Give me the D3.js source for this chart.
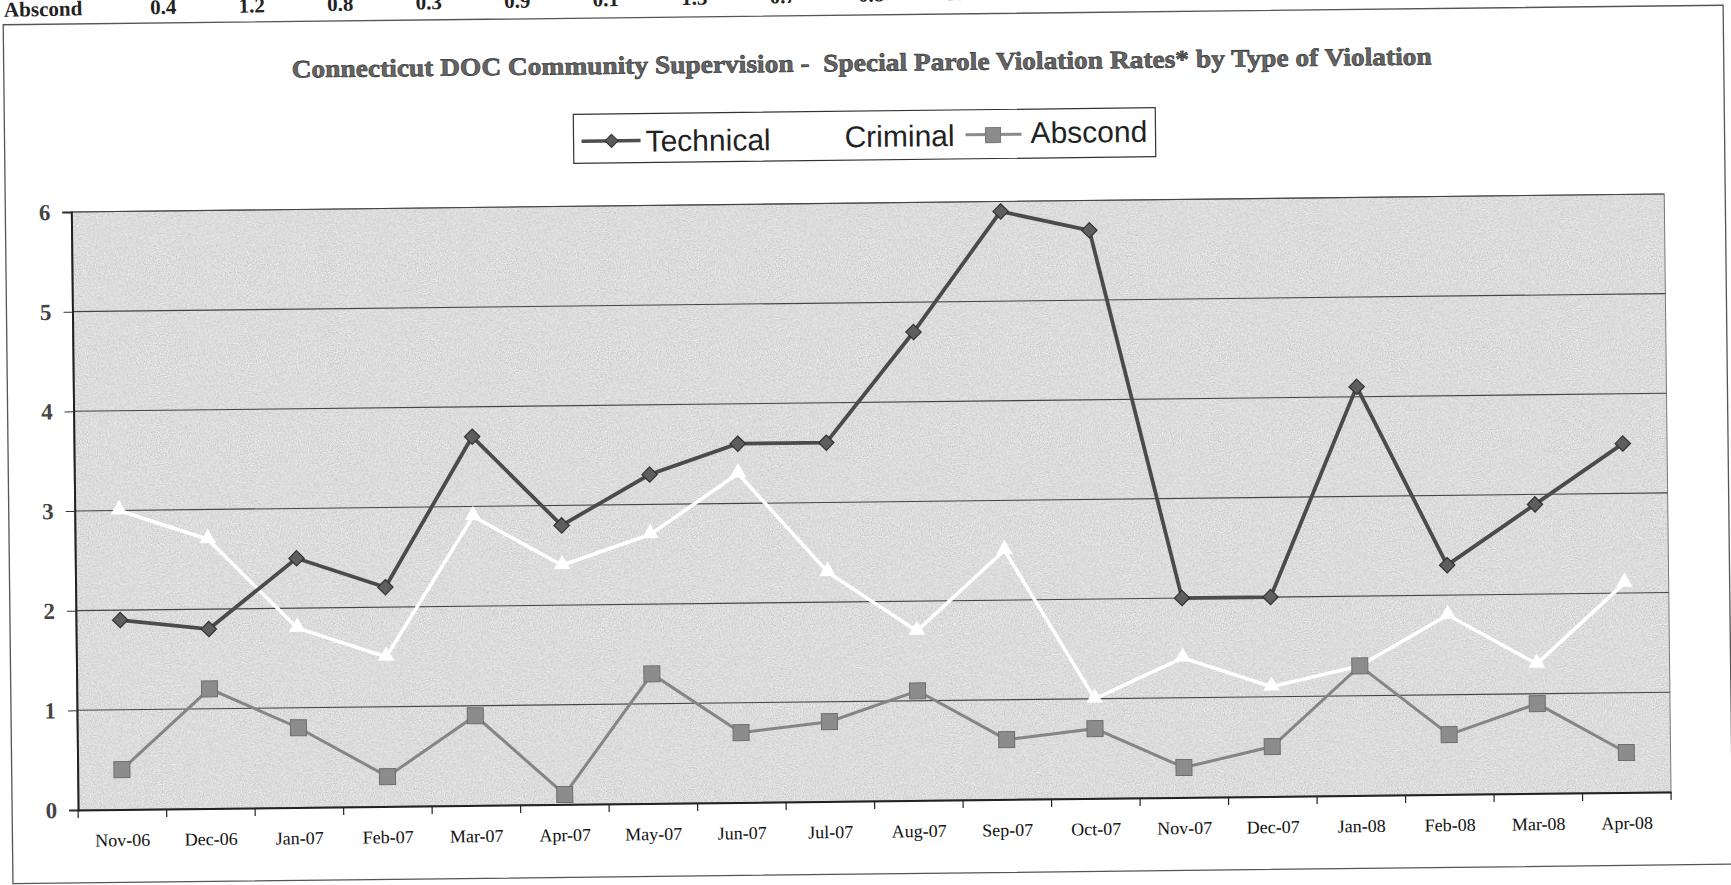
<!DOCTYPE html>
<html>
<head>
<meta charset="utf-8">
<script src="https://cdn.jsdelivr.net/npm/d3@7"></script>
<style>
  body { margin: 0; background: #fff; }
  svg { display: block; }
</style>
</head>
<body>
<svg width="1731" height="885"></svg>
<script>
// maanden op de x-as
var months = ["Nov-06", "Dec-06", "Jan-07", "Feb-07", "Mar-07", "Apr-07", "May-07", "Jun-07", "Jul-07",
  "Aug-07", "Sep-07", "Oct-07", "Nov-07", "Dec-07", "Jan-08", "Feb-08", "Mar-08", "Apr-08"];

// waardes per reeks
var technical = [1.9, 1.8, 2.5, 2.2, 3.7, 2.8, 3.3, 3.6, 3.6, 4.7, 5.9, 5.7, 2.0, 2.0, 4.1, 2.3, 2.9, 3.5];
var criminal = [3.0, 2.7, 1.8, 1.5, 2.9, 2.4, 2.7, 3.3, 2.3, 1.7, 2.5, 1.0, 1.4, 1.1, 1.3, 1.8, 1.3, 2.1];
var abscond = [0.4, 1.2, 0.8, 0.3, 0.9, 0.1, 1.3, 0.7, 0.8, 1.1, 0.6, 0.7, 0.3, 0.5, 1.3, 0.6, 0.9, 0.4];

// tick labels van de y-as
var yTicks = [0, 1, 2, 3, 4, 5, 6];

var titleText = "Connecticut DOC Community Supervision -  Special Parole Violation Rates* by Type of Violation";

var svg = d3.select("svg"),
  margin = { top: 203, right: 64, bottom: 84, left: 74 },
  width = +svg.attr("width") - margin.left - margin.right,
  height = +svg.attr("height") - margin.top - margin.bottom;

// noise filter voor het gescande grijs
var defs = svg.append("defs");
var f = defs.append("filter").attr("id", "noise").attr("x", 0).attr("y", 0).attr("width", "100%").attr("height", "100%");
f.append("feTurbulence").attr("type", "fractalNoise").attr("baseFrequency", 0.9).attr("numOctaves", 2).attr("seed", 3).attr("stitchTiles", "stitch");
f.append("feColorMatrix").attr("type", "matrix")
  .attr("values", "0 0 0 0 0  0 0 0 0 0  0 0 0 0 0  0 0 0 0.3 -0.08");

// de hele pagina staat een beetje scheef, net als de scan
var page = svg.append("g").attr("transform", "rotate(-0.65, 866, 442)");

var x = d3.scaleBand().domain(months).range([0, width]),
  y = d3.scaleLinear().domain([0, 6]).range([height, 0]);

// afgesneden tabelrij boven de grafiek (loopt net iets schever weg)
var row = page.append("g").attr("transform", "rotate(-0.35, 9, 7)")
  .attr("font-family", "Liberation Serif, serif").attr("font-weight", "bold")
  .attr("font-size", 21).attr("fill", "#222");
row.append("text").attr("x", 9).attr("y", 7).text("Abscond");
row.selectAll(".cell").data(abscond).enter().append("text").attr("class", "cell")
  .attr("x", function(d, i) { return margin.left + x(months[i]) + x.bandwidth() / 2 + 50; })
  .attr("y", 7).attr("text-anchor", "middle")
  .text(function(d) { return d3.format(".1f")(d); });

// kader om de grafiek
page.append("rect").attr("x", 8).attr("y", 15).attr("width", 1720).attr("height", 859)
  .attr("fill", "none").attr("stroke", "#555").attr("stroke-width", 1.3);

// titel
page.append("text").attr("x", 866).attr("y", 71).attr("text-anchor", "middle")
  .attr("font-family", "Liberation Serif, serif").attr("font-weight", "bold").attr("font-size", 25)
  .attr("fill", "#666").attr("stroke", "#333").attr("stroke-width", 0.6)
  .attr("textLength", 1140).attr("lengthAdjust", "spacingAndGlyphs")
  .style("white-space", "pre").text(titleText);

// legenda
var lg = page.append("g").attr("font-family", "Liberation Sans, Arial, sans-serif").attr("font-size", 30).attr("fill", "#222");
lg.append("rect").attr("x", 577).attr("y", 111).attr("width", 582).attr("height", 49)
  .attr("fill", "#fff").attr("stroke", "#333").attr("stroke-width", 1.2);
lg.append("line").attr("x1", 585).attr("x2", 644).attr("y1", 138).attr("y2", 138).attr("stroke", "#4e4e4e").attr("stroke-width", 3.5);
lg.append("path").attr("d", d3.symbol().type(d3.symbolDiamond2).size(110)()).attr("transform", "translate(615,138)")
  .attr("fill", "#5c5c5c").attr("stroke", "#333").attr("stroke-width", 1);
lg.append("text").attr("x", 649).attr("y", 149).text("Technical");
lg.append("line").attr("x1", 790).attr("x2", 845).attr("y1", 138).attr("y2", 138).attr("stroke", "#fff").attr("stroke-width", 3);
lg.append("text").attr("x", 848).attr("y", 147).text("Criminal");
lg.append("line").attr("x1", 969).attr("x2", 1025).attr("y1", 136).attr("y2", 136).attr("stroke", "#8a8a8a").attr("stroke-width", 3);
lg.append("rect").attr("x", 989).attr("y", 129).attr("width", 15).attr("height", 15).attr("fill", "#8c8c8c").attr("stroke", "#777");
lg.append("text").attr("x", 1034).attr("y", 145).text("Abscond");

var g = page.append("g").attr("transform", "translate(" + margin.left + "," + margin.top + ")");

// grijze achtergrond van het plotvlak
g.append("rect").attr("width", width).attr("height", height).attr("fill", "#ececec");
g.append("rect").attr("width", width).attr("height", height).attr("filter", "url(#noise)");
g.append("rect").attr("width", width).attr("height", height).attr("fill", "none").attr("stroke", "#777").attr("stroke-width", 1);

// horizontale gridlijnen
g.selectAll(".grid").data(yTicks.slice(1)).enter().append("line").attr("class", "grid")
  .attr("x1", 0).attr("x2", width)
  .attr("y1", function(d) { return y(d); }).attr("y2", function(d) { return y(d); })
  .attr("stroke", "#444").attr("stroke-width", 1.1);

// y-as
var yAxis = g.append("g").attr("class", "axis axis--y")
  .call(d3.axisLeft(y).tickValues(yTicks).tickSize(9).tickPadding(12).tickFormat(d3.format("d")));
yAxis.select(".domain").attr("stroke", "#222").attr("stroke-width", 2);
yAxis.selectAll("line").attr("stroke", "#333");
yAxis.selectAll("text").attr("font-family", "Liberation Serif, serif").attr("font-size", 23).attr("font-weight", "bold").attr("fill", "#444");

// x-as, ticks tussen de categorieen zoals in Excel
var xAxis = g.append("g").attr("class", "axis axis--x").attr("transform", "translate(0," + height + ")")
  .call(d3.axisBottom(x).tickSize(0).tickPadding(24));
xAxis.select(".domain").attr("stroke", "#222").attr("stroke-width", 2);
xAxis.selectAll("text").attr("font-family", "Liberation Serif, serif").attr("font-size", 18).attr("fill", "#111");
xAxis.selectAll(".sep").data(months.concat(["end"])).enter().append("line").attr("class", "sep")
  .attr("x1", function(d, i) { return i * x.step(); }).attr("x2", function(d, i) { return i * x.step(); })
  .attr("y1", 0).attr("y2", 8).attr("stroke", "#222").attr("stroke-width", 1.2);

var line = d3.line()
  .x(function(d, i) { return x(months[i]) + x.bandwidth() / 2; })
  .y(function(d) { return y(d); });

// Criminal: witte lijn met driehoekjes
g.append("path").datum(criminal).attr("d", line).attr("fill", "none").attr("stroke", "#fff").attr("stroke-width", 3.5);
g.selectAll(".tri").data(criminal).enter().append("path").attr("class", "tri")
  .attr("d", d3.symbol().type(d3.symbolTriangle).size(120)())
  .attr("transform", function(d, i) { return "translate(" + (x(months[i]) + x.bandwidth() / 2) + "," + (y(d) - 1) + ")"; })
  .attr("fill", "#fff");

// Abscond: grijze lijn met vierkantjes
g.append("path").datum(abscond).attr("d", line).attr("fill", "none").attr("stroke", "#858585").attr("stroke-width", 3);
g.selectAll(".sq").data(abscond).enter().append("rect").attr("class", "sq")
  .attr("x", function(d, i) { return x(months[i]) + x.bandwidth() / 2 - 8; })
  .attr("y", function(d) { return y(d) - 8; })
  .attr("width", 16).attr("height", 16).attr("fill", "#8c8c8c").attr("stroke", "#6e6e6e").attr("stroke-width", 1);

// Technical: donkere lijn met ruitjes
g.append("path").datum(technical).attr("d", line).attr("fill", "none").attr("stroke", "#4b4b4b").attr("stroke-width", 3.8);
g.selectAll(".dia").data(technical).enter().append("path").attr("class", "dia")
  .attr("d", d3.symbol().type(d3.symbolDiamond2).size(150)())
  .attr("transform", function(d, i) { return "translate(" + (x(months[i]) + x.bandwidth() / 2) + "," + y(d) + ")"; })
  .attr("fill", "#5e5e5e").attr("stroke", "#333").attr("stroke-width", 1.2);
</script>
</body>
</html>
